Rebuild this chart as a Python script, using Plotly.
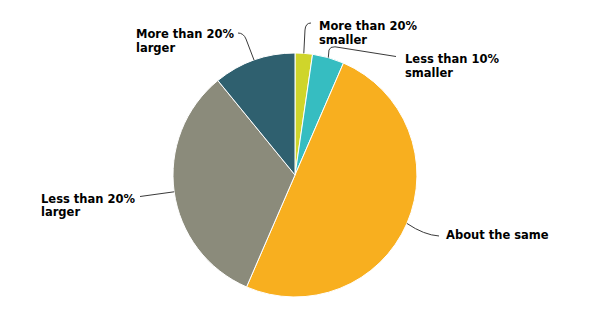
import math
import plotly.graph_objects as go

# ---- data ----
categories = ["More than 20% smaller", "Less than 10% smaller", "About the same",
              "Less than 20% larger", "More than 20% larger"]
values = [2.3, 4.2, 50.0, 32.6, 10.9]
label_lines = [["More than 20%", "smaller"], ["Less than 10%", "smaller"], ["About the same"],
               ["Less than 20%", "larger"], ["More than 20%", "larger"]]

# ---- style / layout ----
colors = ["#cfd52b", "#36bdc1", "#f8af1f", "#8b8b7b", "#2f606f"]
W, H = 596, 319
CX, CY, R = 295, 175, 122
FONT_SIZE = 11.5
LINE_GAP = 13.7
# label block: left x, first-line centre y (px)
label_pos = [(318.7, 25.3), (405, 58.3), (446, 234.3), (41, 198), (136, 34)]
# leader path after the slice edge point: sequence of ("L", pt) or ("Q", ctrl, pt)
leader = [
    [("L", (305, 30)), ("Q", (305.5, 23), (311, 23))],
    [("L", (329, 50)), ("Q", (330, 46.5), (335, 46.8)), ("L", (396, 56.5))],
    [("Q", (424, 235), (439, 236))],
    [("L", (140, 196.5))],
    [("L", (246, 39)), ("Q", (243.5, 33), (238, 33))],
]


def px(x):
    return x / W


def py(y):
    return 1 - y / H


def pt(p):
    return f"{px(p[0]):.5f},{py(p[1]):.5f}"


fig = go.Figure(go.Pie(
    labels=categories, values=values, sort=False, direction="clockwise", rotation=0,
    marker=dict(colors=colors, line=dict(color="#ffffff", width=1)),
    textinfo="none", hoverinfo="label+percent", showlegend=False,
    domain=dict(x=[px(CX - R), px(CX + R)], y=[py(CY + R), py(CY - R)]),
))

total = sum(values)
cum = 0.0
shapes, annotations = [], []
for i, v in enumerate(values):
    mid = (cum + v / 2) / total * 2 * math.pi
    cum += v
    ex = CX + R * math.sin(mid)
    ey = CY - R * math.cos(mid)
    path = f"M {pt((ex, ey))}"
    for seg in leader[i]:
        if seg[0] == "L":
            path += f" L {pt(seg[1])}"
        else:
            path += f" Q {pt(seg[1])} {pt(seg[2])}"
    shapes.append(dict(type="path", xref="paper", yref="paper", path=path,
                       line=dict(color="#3a3a3a", width=1)))
    lx, ly = label_pos[i]
    for j, line in enumerate(label_lines[i]):
        annotations.append(dict(
            xref="paper", yref="paper", x=px(lx - 2), y=py(ly + 0.5 + j * LINE_GAP),
            text=f"<b>{line}</b>", showarrow=False, xanchor="left", yanchor="middle",
            font=dict(family="DejaVu Sans", size=FONT_SIZE, color="#000000"),
        ))

fig.update_layout(
    width=W, height=H, margin=dict(l=0, r=0, t=0, b=0),
    paper_bgcolor="#ffffff", plot_bgcolor="#ffffff",
    shapes=shapes, annotations=annotations,
)
fig.write_html("out.html")
